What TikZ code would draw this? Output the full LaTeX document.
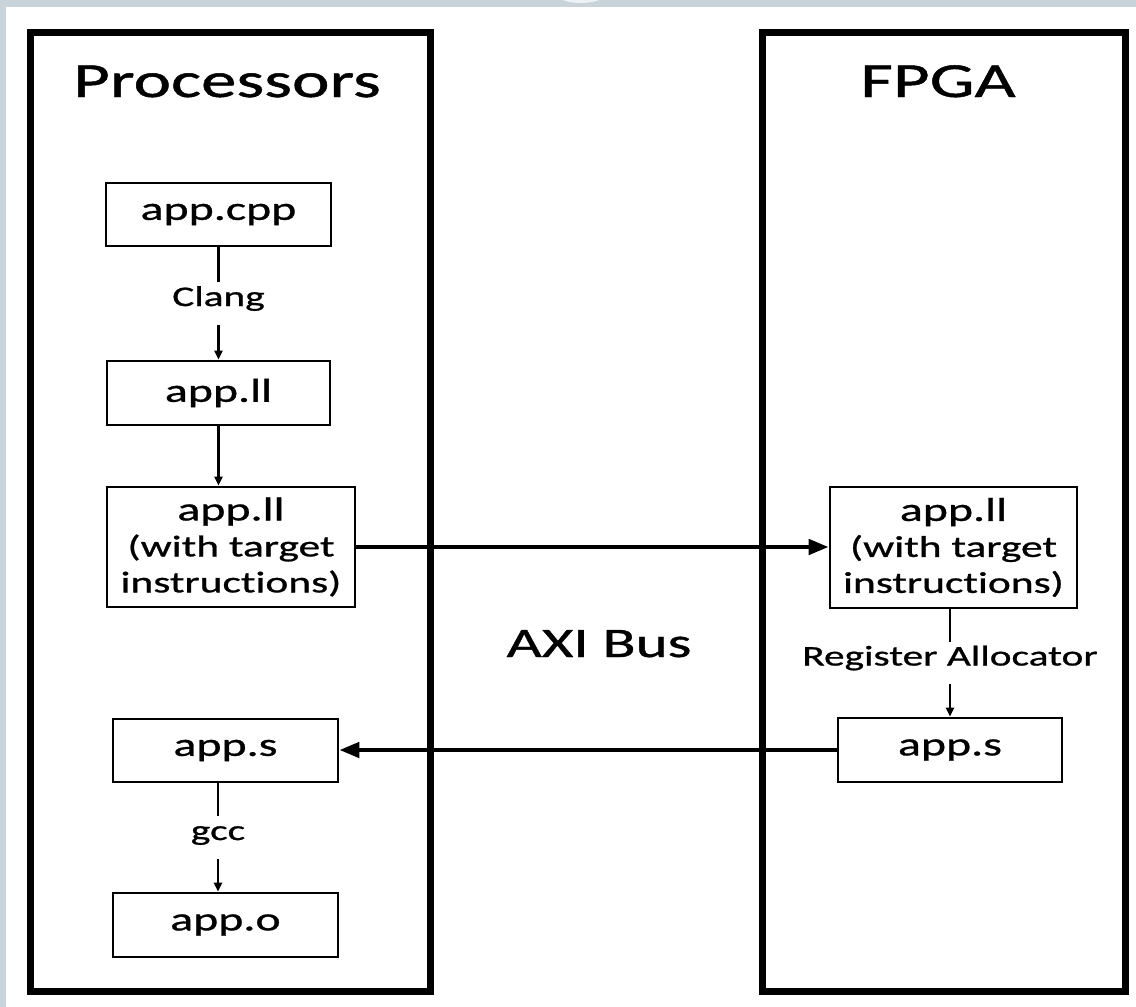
\documentclass[tikz,border=0pt]{standalone}
\usepackage{fontspec}
\setmainfont{Carlito}[FakeStretch=1.45, FakeBold=0.9, Ligatures=NoCommon]
\usetikzlibrary{arrows.meta,calc}

\definecolor{bandgray}{RGB}{200,211,218}
\definecolor{knob}{RGB}{238,242,244}

\newcommand{\fname}{\fontsize{33}{36}\selectfont}
\newcommand{\fnote}{\fontsize{30}{33}\selectfont}

\tikzset{
  frame/.style={draw, line width=7pt, inner sep=0pt},
  filebox/.style={draw, line width=2.6pt, inner sep=0pt, align=center,
                  font=\fname},
  title/.style={anchor=base, font=\fontsize{49}{52}\selectfont},
  steplabel/.style={inner sep=0pt, minimum height=42pt,
                    text height=0.72em, text depth=0.22em,
                    font=\fontsize{28.5}{31}\selectfont},
  flow/.style={line width=2.6pt},
  flowarrow/.style={line width=2.6pt, -{Triangle[length=9pt,width=8pt]}},
  busarrow/.style={line width=4.5pt, -{Triangle[length=20pt,width=15pt]}}
}

\begin{document}
\begin{tikzpicture}[x=1pt, y=-1pt]
  \useasboundingbox (0,0) rectangle (1136,1007);

  % page background with its grey band and the small tab at the top
  \fill[bandgray] (0,0) rectangle (1136,1007);
  \fill[white] (6,7) rectangle (1136,1007);
  \begin{scope}
    \clip (0,0) rectangle (1136,7);
    \fill[knob] (581,-55.5) circle (58.5);
  \end{scope}

  % the two sides
  \node[frame, minimum width=399.5pt, minimum height=959.5pt] (procframe) at (230.25,511.75) {};
  \node[frame, minimum width=363pt, minimum height=959.5pt] (fpgaframe) at (944,511.75) {};
  \node[title] (proctitle) at (227,97) {Processors};
  \node[title] (fpgatitle) at (938,97) {FPGA};

  % processor-side files
  \node[filebox, minimum width=225pt, minimum height=63pt] (cpp) at (218.5,214.5) {app.cpp};
  \node[filebox, minimum width=223pt, minimum height=64pt] (ll) at (218.5,393) {app.ll};
  \node[filebox, minimum width=248pt, minimum height=120pt] (lltarget) at (231,547)
       {app.ll\\ \fnote (with target\\ \fnote instructions)};
  \node[filebox, minimum width=225pt, minimum height=63pt] (procs) at (225.5,750.5) {app.s};
  \node[filebox, minimum width=225pt, minimum height=64pt] (obj) at (225.5,925) {app.o};

  % FPGA-side files
  \node[filebox, minimum width=247pt, minimum height=121pt] (fpgall) at (953.5,547.5)
       {app.ll\\ \fnote (with target\\ \fnote instructions)};
  \node[filebox, minimum width=224pt, minimum height=64pt] (fpgas) at (950,750) {app.s};

  % tool labels between the files
  \node[steplabel] (clang) at ($(cpp.south)!0.5!(ll.north)$) {Clang};
  \node[steplabel] (regalloc) at (fpgas.north |- {$(fpgall.south)!0.5!(fpgas.north)$}) {Register Allocator};
  \node[steplabel] (gcc) at (218,837.5) {gcc};

  \node[font=\fontsize{42}{45}\selectfont, anchor=base] (axi) at (599,657) {AXI Bus};

  % processor-side flow
  \draw[flow] (cpp.south) -- (clang.north);
  \draw[flowarrow] (clang.south) -- (ll.north);
  \draw[flowarrow] (ll.south) -- (ll.south |- lltarget.north);
  \draw[flow] (procs.south -| gcc) -- (gcc.north);
  \draw[flowarrow] (gcc.south) -- (gcc |- obj.north);

  % FPGA-side flow
  \draw[flow] (fpgall.south -| regalloc) -- (regalloc.north);
  \draw[flowarrow] (regalloc.south) -- (regalloc |- fpgas.north);

  % transfers over the bus
  \draw[busarrow] (lltarget.east) -- (lltarget.east -| fpgall.west);
  \draw[busarrow] (fpgas.west) -- (fpgas.west -| procs.east);
\end{tikzpicture}
\end{document}
